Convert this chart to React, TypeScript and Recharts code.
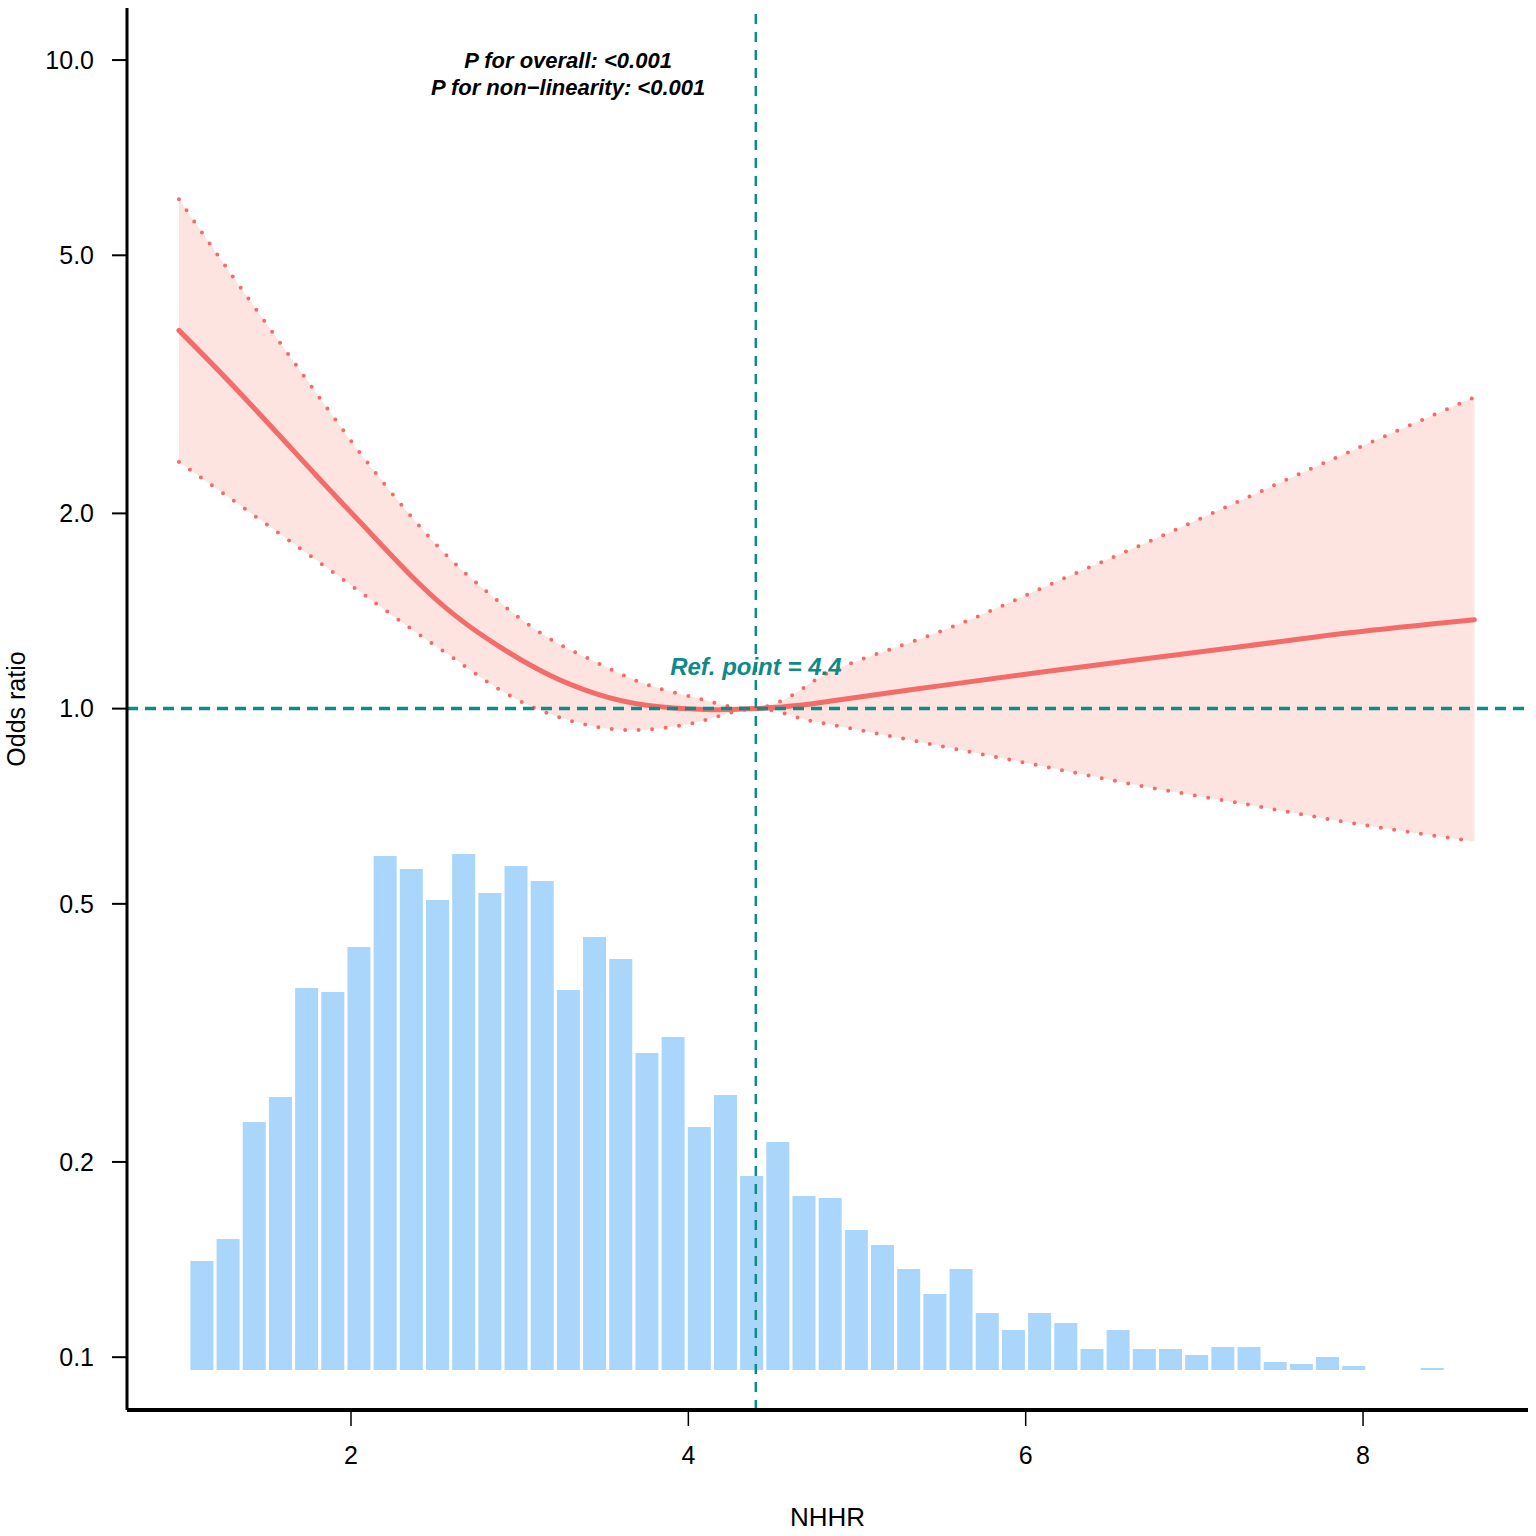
import { ComposedChart, Bar, Line, Area, XAxis, YAxis, ReferenceLine, ReferenceDot } from 'recharts';

const nhhr = [0.98, 1.34, 1.8, 2.09, 2.37, 2.62, 2.88, 3.16, 3.45, 3.75, 4.1, 4.4, 4.66, 4.91, 5.51, 6.11, 6.71, 7.32, 7.92, 8.66];
const orMid = [3.83, 3.07, 2.28, 1.895, 1.59, 1.39, 1.246, 1.132, 1.055, 1.0125, 0.997, 1.0, 1.012, 1.033, 1.086, 1.14, 1.194, 1.25, 1.309, 1.371];
const orHigh = [6.1, 4.48, 3.05, 2.41, 1.96, 1.67, 1.46, 1.29, 1.18, 1.09, 1.03, 1.0, 1.066, 1.16, 1.32, 1.54, 1.8, 2.12, 2.49, 3.02];
const orLow = [2.4, 2.06, 1.69, 1.49, 1.32, 1.19, 1.07, 0.985, 0.938, 0.928, 0.96, 1.0, 0.967, 0.938, 0.874, 0.814, 0.758, 0.711, 0.667, 0.624];

// histogram of NHHR (relative counts per bin)
const binStart = 1.036;
const binWidth = 0.1552;
const binCounts = [
  109, 131, 248, 273, 382, 378, 423, 514, 501, 470, 516, 477, 504, 489, 380, 433,
  411, 317, 333, 243, 275, 194, 228, 174, 172, 140, 125, 101, 76, 101, 57, 40,
  57, 47, 21, 40, 21, 21, 15, 23, 23, 8, 6, 13, 4, 0, 0, 2,
];

const xTicks = [2, 4, 6, 8];
const yTicks = [0.1, 0.2, 0.5, 1, 2, 5, 10];
const refPoint = 4.4;

const curveData = nhhr.map((x, i) => ({ x, or: orMid[i], lo: orLow[i], hi: orHigh[i], band: [orLow[i], orHigh[i]] }));
const histData = binCounts.map((count, k) => ({ mid: binStart + (k + 0.5) * binWidth, count }));

const RED = '#F36C69';
const TEAL = '#0F8A87';
const FONT = '"Liberation Sans", Arial, sans-serif';

const YLabel = (props: any) => {
  const vb = props.viewBox ?? { x: 0, y: 8, width: 127, height: 1402 };
  const cx = vb.x + 25;
  const cy = vb.y + vb.height / 2;
  return (
    <text x={cx} y={cy} transform={`rotate(-90 ${cx} ${cy})`} textAnchor="middle" fontSize={25} fontFamily={FONT} fill="#000">
      Odds ratio
    </text>
  );
};

const XLabel = (props: any) => {
  const vb = props.viewBox ?? { x: 127, y: 1410, width: 1401, height: 126 };
  return (
    <text x={vb.x + vb.width / 2} y={vb.y + 116} textAnchor="middle" fontSize={26} fontFamily={FONT} fill="#000">
      NHHR
    </text>
  );
};

const PLabel = (props: any) => {
  const vb = props.viewBox;
  const cx = vb.x + vb.width / 2;
  const cy = vb.y + vb.height / 2;
  return (
    <g fontFamily={FONT} fontWeight="bold" fontStyle="italic" fontSize={22} fill="#000" textAnchor="middle">
      <text x={cx} y={cy + 8}>P for overall: &lt;0.001</text>
      <text x={cx} y={cy + 35}>P for non{'\u2212'}linearity: &lt;0.001</text>
    </g>
  );
};

const RefLabel = (props: any) => {
  const vb = props.viewBox;
  const cx = vb.x + vb.width / 2;
  const cy = vb.y + vb.height / 2;
  return (
    <text x={cx} y={cy - 34} textAnchor="middle" fontFamily={FONT} fontWeight="bold" fontStyle="italic" fontSize={24} fill={TEAL}>
      Ref. point = 4.4
    </text>
  );
};

export default function App() {
  return (
    <div style={{ position: 'absolute', left: 0, top: 0, background: '#fff' }}>
      <ComposedChart width={1536} height={1536} data={histData} margin={{ top: 8, right: 8, left: 0, bottom: 0 }}>
        <XAxis
          xAxisId="main"
          dataKey="x"
          type="number"
          domain={[0.672, 8.978]}
          allowDataOverflow
          ticks={xTicks}
          height={126}
          tickSize={16}
          tickMargin={20}
          axisLine={{ stroke: '#000', strokeWidth: 4 }}
          tickLine={{ stroke: '#000', strokeWidth: 1.5 }}
          tick={{ fill: '#000', fontSize: 25, fontFamily: FONT }}
          label={XLabel}
        />
        <XAxis xAxisId="hist" dataKey="mid" type="number" domain={[0.672, 8.978]} allowDataOverflow hide height={0} />
        <YAxis
          yAxisId="or"
          type="number"
          scale="log"
          domain={[0.0829, 12.03]}
          allowDataOverflow
          ticks={yTicks}
          tickFormatter={(v: number) => v.toFixed(1)}
          width={127}
          tickSize={15}
          tickMargin={18}
          axisLine={{ stroke: '#000', strokeWidth: 3 }}
          tickLine={{ stroke: '#000', strokeWidth: 2 }}
          tick={{ fill: '#000', fontSize: 25, fontFamily: FONT }}
          label={YLabel}
        />
        <YAxis yAxisId="hist" orientation="right" type="number" domain={[-40, 1362]} allowDataOverflow hide width={0} />

        <Bar xAxisId="hist" yAxisId="hist" dataKey="count" fill="#A9D6FA" barSize={23} isAnimationActive={false} />

        <Area
          xAxisId="main"
          yAxisId="or"
          data={curveData}
          dataKey="band"
          type="natural"
          stroke="none"
          fill="#FDE4E1"
          fillOpacity={1}
          dot={false}
          activeDot={false}
          isAnimationActive={false}
        />
        <Line
          xAxisId="main"
          yAxisId="or"
          data={curveData}
          dataKey="hi"
          type="natural"
          stroke={RED}
          strokeWidth={4}
          strokeDasharray="0 13.5"
          strokeLinecap="round"
          dot={false}
          activeDot={false}
          isAnimationActive={false}
        />
        <Line
          xAxisId="main"
          yAxisId="or"
          data={curveData}
          dataKey="lo"
          type="natural"
          stroke={RED}
          strokeWidth={4}
          strokeDasharray="0 13.5"
          strokeLinecap="round"
          dot={false}
          activeDot={false}
          isAnimationActive={false}
        />
        <Line
          xAxisId="main"
          yAxisId="or"
          data={curveData}
          dataKey="or"
          type="natural"
          stroke={RED}
          strokeWidth={5}
          strokeLinecap="round"
          dot={false}
          activeDot={false}
          isAnimationActive={false}
        />

        <ReferenceLine xAxisId="main" yAxisId="or" y={1} stroke={TEAL} strokeWidth={3.5} strokeDasharray="11 7" />
        <ReferenceLine xAxisId="main" yAxisId="or" x={refPoint} stroke={TEAL} strokeWidth={2.5} strokeDasharray="10 8" />
        <ReferenceDot xAxisId="main" yAxisId="or" x={refPoint} y={1} r={0.01} fill="none" stroke="none" label={RefLabel} />
        <ReferenceDot xAxisId="main" yAxisId="or" x={3.287} y={10} r={0.01} fill="none" stroke="none" label={PLabel} />
      </ComposedChart>
    </div>
  );
}
